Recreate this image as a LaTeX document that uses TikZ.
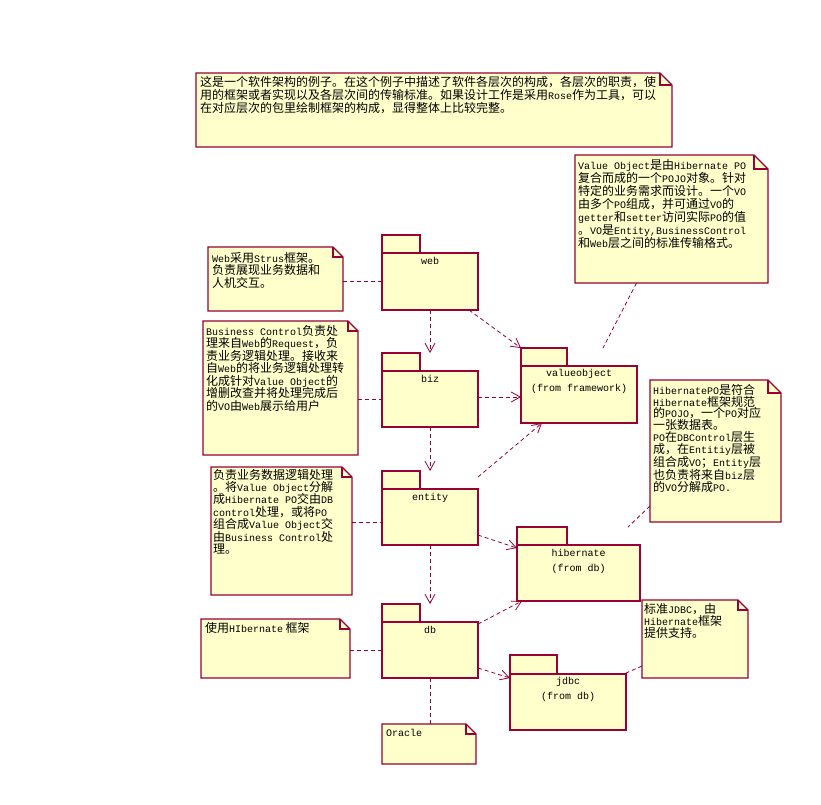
\documentclass[tikz,border=0pt]{standalone}
\usepackage{fontspec}
\setmainfont{Noto Sans CJK SC}
\newfontfamily\monofont{Liberation Mono}
\usetikzlibrary{arrows.meta,fit}
\definecolor{umlred}{RGB}{153,0,51}
\definecolor{umlfill}{RGB}{255,255,204}
\newcommand\m[1]{{\monofont\fontsize{10}{12}\selectfont #1}}
\tikzset{
  umlline/.style={draw=umlred, line width=1.1pt},
  pkgbox/.style={umlline, fill=umlfill, inner sep=0pt, outer sep=0pt},
  notetext/.style={inner sep=0pt, outer sep=0pt, align=left, text=black},
  pkgtext/.style={inner sep=0pt, align=center, text=black, font=\monofont\fontsize{10}{15}\selectfont},
  dep/.style={draw=umlred, line width=0.8pt, dash pattern=on 4pt off 3pt,
    -{Straight Barb[length=9pt,width=10pt,line width=0.8pt]}},
  notelink/.style={draw=umlred, line width=0.8pt, dash pattern=on 4pt off 3pt},
}
% #1 name, #2 nw, #3 se, #4 fold, #5 text offset, #6 line skip, #7 text
\newcommand\umlnote[7]{%
  \node[fit={#2 #3}, inner sep=0pt, outer sep=0pt] (#1) {};
  \draw[umlline, fill=umlfill] (#1.north west) -- ([xshift=-#4]#1.north east)
     -- ([yshift=-#4]#1.north east) -- (#1.south east) -- (#1.south west) -- cycle;
  \draw[umlline] ([xshift=-#4]#1.north east) |- ([yshift=-#4]#1.north east);
  \node[notetext, anchor=north west, font=\fontsize{12}{#6}\selectfont] (#1-text)
     at ([#5]#1.north west) {#7};
}
% #1 name, #2 x1, #3 x2, #4 tab top, #5 body top, #6 bottom, #7 tab right
\newcommand\umlpkg[7]{%
  \node[pkgbox, fit={(#2,#4) (#7,#5)}] (#1-tab) {};
  \node[pkgbox, fit={(#2,#5) (#3,#6)}] (#1) {};
}
\begin{document}
\begin{tikzpicture}[x=1pt,y=-1pt]
\fill[white] (0,0) rectangle (821,804);
\useasboundingbox (0,0) rectangle (821,804);

% notes
\umlnote{topnote}{(196,73)}{(672,147)}{12pt}{xshift=4pt,yshift=-3pt}{13}{%
这是一个软件架构的例子。在这个例子中描述了软件各层次的构成，各层次的职责，使\\
用的框架或者实现以及各层次间的传输标准。如果设计工作是采用\m{Rose}作为工具，可以\\
在对应层次的包里绘制框架的构成，显得整体上比较完整。}

\umlnote{vonote}{(575,155)}{(768,283)}{14pt}{xshift=3pt,yshift=-4pt}{13}{%
\m{Value Object}是由\m{Hibernate PO}\\
复合而成的一个\m{POJO}对象。针对\\
特定的业务需求而设计。一个\m{VO}\\
由多个\m{PO}组成，并可通过\m{VO}的\\
\m{getter}和\m{setter}访问实际\m{PO}的值\\
。\m{VO}是\m{Entity,BusinessControl}\\
和\m{Web}层之间的标准传输格式。}

\umlnote{webnote}{(208,247)}{(343,311)}{10pt}{xshift=4pt,yshift=-5pt}{12.5}{%
\m{Web}采用\m{Strus}框架。\\
负责展现业务数据和\\
人机交互。}

\umlnote{biznote}{(203,321)}{(358,455)}{10pt}{xshift=3pt,yshift=-4pt}{12.5}{%
\m{Business Control}负责处\\
理来自\m{Web}的\m{Request}，负\\
责业务逻辑处理。接收来\\
自\m{Web}的将业务逻辑处理转\\
化成针对\m{Value Object}的\\
增删改查并将处理完成后\\
的\m{VO}由\m{Web}展示给用户}

\umlnote{entitynote}{(211,467)}{(352,595)}{10pt}{xshift=2pt,yshift=-2pt}{12.4}{%
负责业务数据逻辑处理\\
。将\m{Value Object}分解\\
成\m{Hibernate PO}交由\m{DB}\\
\m{control}处理，或将\m{PO}\\
组合成\m{Value Object}交\\
由\m{Business Control}处\\
理。}

\umlnote{hpnote}{(650,380)}{(781,522)}{13pt}{xshift=3pt,yshift=-4pt}{11.9}{%
\m{HibernatePO}是符合\\
\m{Hibernate}框架规范\\
的\m{POJO}，一个\m{PO}对应\\
一张数据表。\\
\m{PO}在\m{DBControl}层生\\
成，在\m{Entitiy}层被\\
组合成\m{VO}；\m{Entity}层\\
也负责将来自\m{biz}层\\
的\m{VO}分解成\m{PO.}}

\umlnote{jnote}{(642,600)}{(748,678)}{10pt}{xshift=2pt,yshift=-3pt}{10.5}{%
标准\m{JDBC}，由\\
\m{Hibernate}框架\\
提供支持。}

\umlnote{hbnote}{(201,619)}{(350,678)}{10pt}{xshift=4pt,yshift=-3pt}{13}{%
使用\m{HIbernate} 框架}

\umlnote{oracle}{(382,724)}{(476,764)}{10pt}{xshift=4pt,yshift=-5pt}{13}{%
\m{Oracle}}

% packages
\umlpkg{web}{382}{478}{235}{253}{310}{420}
\umlpkg{biz}{382}{478}{353}{371}{427}{420}
\umlpkg{vo}{521}{637}{348}{366}{423}{567}
\umlpkg{entity}{382}{478}{471}{489}{545}{420}
\umlpkg{hib}{517}{640}{527}{545}{601}{567}
\umlpkg{db}{382}{478}{604}{622}{678}{420}
\umlpkg{jdbc}{510}{626}{655}{674}{730}{557}

\node[pkgtext, anchor=north] (web-label) at ([yshift=-4pt]web.north) {web};
\node[pkgtext, anchor=north] (biz-label) at ([yshift=-4pt]biz.north) {biz};
\node[pkgtext, anchor=north] (vo-label) at ([yshift=-3pt]vo.north) {valueobject\\(from framework)};
\node[pkgtext, anchor=north] (entity-label) at ([yshift=-4pt]entity.north) {entity};
\node[pkgtext, anchor=north] (hib-label) at ([yshift=-4pt]hib.north) {hibernate\\(from db)};
\node[pkgtext, anchor=north] (db-label) at ([yshift=-4pt]db.north) {db};
\node[pkgtext, anchor=north] (jdbc-label) at ([yshift=-3pt]jdbc.north) {jdbc\\(from db)};

% dependencies
\draw[dep] (web.south) -- (web.south |- biz-tab.north);
\draw[dep] ([xshift=-9pt]web.south east) -- (vo-tab.north west);
\draw[dep] ([yshift=2pt]biz.east) -- ([yshift=2pt]biz.east -| vo.west);
\draw[dep] ([yshift=12pt]entity.north east) -- ([xshift=21pt]vo.south west);
\draw[dep] (biz.south) -- (biz.south |- entity-tab.north);
\draw[dep] ([yshift=-18pt]entity.east) -- ([yshift=-3pt]hib.north west);
\draw[dep] (entity.south) -- (entity.south |- db-tab.north);
\draw[dep] ([yshift=-2pt]db.north east) -- ([xshift=5pt]hib.south west);
\draw[dep] ([yshift=-18pt]db.east) -- ([yshift=-4pt]jdbc.north west);
\draw[notelink] (db.south) -- (db.south |- oracle.north);

% note links
\draw[notelink] (webnote.east |- web.west) -- (web.west);
\draw[notelink] (biznote.east |- biz.west) -- (biz.west);
\draw[notelink] ([yshift=-5pt]entity.west -| entitynote.east) -- ([yshift=-5pt]entity.west);
\draw[notelink] (hbnote.east |- db.west) -- (db.west);
\draw[notelink] ([xshift=-35pt]vonote.south) -- ([xshift=24pt,yshift=18pt]vo.north);
\draw[notelink] ([yshift=16pt]hpnote.south west) -- ([xshift=-12pt,yshift=18pt]hib.north east);
\draw[notelink] ([yshift=12pt]jnote.south west) -- ([yshift=1pt]jdbc.north east);
\end{tikzpicture}
\end{document}
